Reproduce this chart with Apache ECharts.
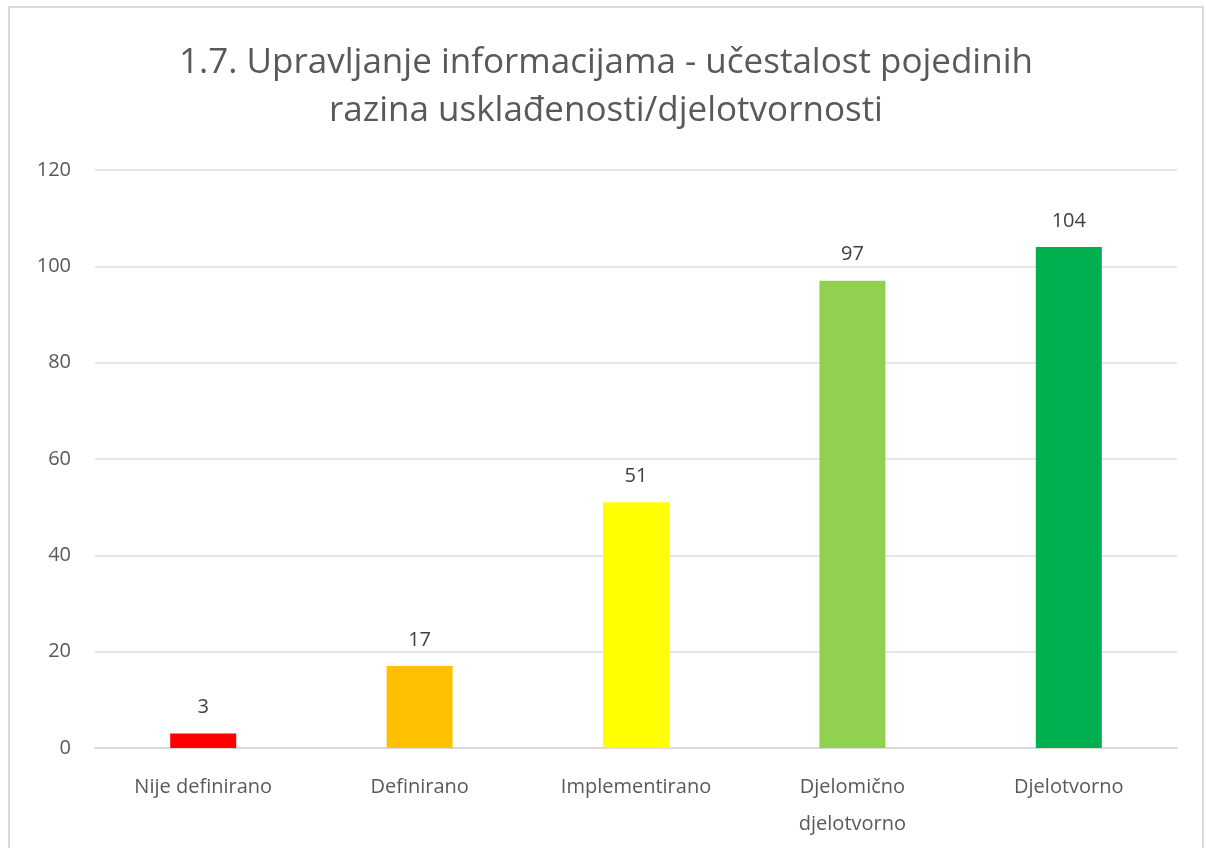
<!DOCTYPE html>
<html>
<head>
<meta charset="utf-8">
<script src="https://cdn.jsdelivr.net/npm/echarts@6/dist/echarts.min.js"></script>
<style>
  html, body { margin: 0; padding: 0; background: #fff; }
  #chart { position: absolute; left: 8px; top: 6px; width: 1196px; height: 860px; border: 2px solid #d9d9d9; box-sizing: border-box; }
</style>
</head>
<body>
<div id="chart"></div>
<script>
// podaci
var categories = ["Nije definirano", "Definirano", "Implementirano", "Djelomično\ndjelotvorno", "Djelotvorno"];
var values = [3, 17, 51, 97, 104];
var colors = ["#FF0000", "#FFC000", "#FFFF00", "#92D050", "#00B050"];

var myChart = echarts.init(document.getElementById("chart"));
var option = {
  animation: false,
  title: {
    text: "1.7. Upravljanje informacijama - učestalost pojedinih\nrazina usklađenosti/djelotvornosti",
    left: "center",
    top: 26,
    textStyle: {
      fontFamily: "Open Sans",
      fontWeight: "normal",
      fontSize: 35,
      lineHeight: 48,
      color: "#595959"
    }
  },
  grid: {
    left: 85,
    right: 25,
    top: 162,
    bottom: 116
  },
  xAxis: {
    type: "category",
    data: categories,
    axisTick: { show: false },
    axisLine: { lineStyle: { color: "#d9d9d9", width: 2 } },
    axisLabel: {
      interval: 0,
      margin: 21,
      lineHeight: 37,
      fontFamily: "Open Sans",
      fontSize: 20,
      color: "#595959"
    }
  },
  yAxis: {
    type: "value",
    min: 0,
    max: 120,
    interval: 20,
    axisLine: { show: false },
    axisTick: { show: false },
    splitLine: { lineStyle: { color: "#e6e6e6", width: 2 } },
    axisLabel: {
      margin: 24,
      fontFamily: "Open Sans",
      fontSize: 20,
      color: "#595959"
    }
  },
  series: [
    {
      type: "bar",
      barWidth: "30.5%",
      data: values.map(function (v, i) {
        return { value: v, itemStyle: { color: colors[i] } };
      }),
      label: {
        show: true,
        position: "top",
        distance: 16,
        fontFamily: "Open Sans",
        fontSize: 20,
        color: "#404040"
      }
    }
  ]
};
myChart.setOption(option);
</script>
</body>
</html>
